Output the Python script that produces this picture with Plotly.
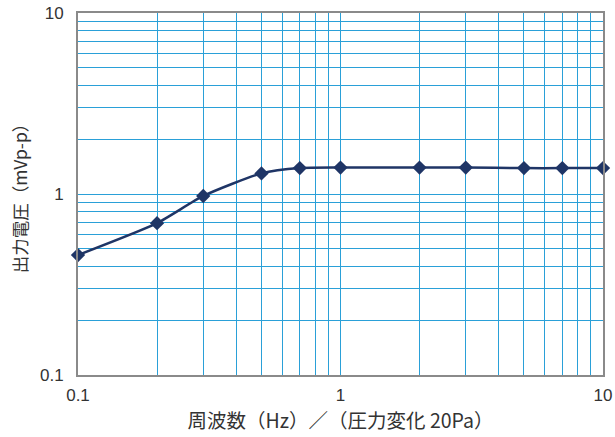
import plotly.graph_objects as go

freq_hz = [0.1, 0.2, 0.3, 0.5, 0.7, 1, 2, 3, 5, 7, 10]
output_mv = [0.46, 0.69, 0.975, 1.30, 1.39, 1.40, 1.40, 1.40, 1.39, 1.39, 1.39]

major_ticks = [0.1, 1, 10]
major_labels = ["0.1", "1", "10"]
minor_ticks = [round(m * d, 2) for d in (0.1, 1) for m in range(2, 10)]

x_title = "周波数（Hz）／（圧力変化 20Pa）"
y_title = "出力電圧（mVp-p）"

grid_col = "#2aa0d8"
axis_col = "#8a8a8a"
line_col = "#1f3566"
font_fam = "Noto Sans CJK JP, Noto Sans, sans-serif"
tick_fam = "Liberation Sans, Arial, sans-serif"

all_ticks = sorted(major_ticks + minor_ticks)
all_labels = [major_labels[major_ticks.index(v)] if v in major_ticks else "" for v in all_ticks]

fig = go.Figure()
fig.add_trace(go.Scatter(
    x=freq_hz, y=output_mv, mode="lines+markers",
    line=dict(color=line_col, width=2.5, shape="spline", smoothing=0.6),
    marker=dict(symbol="diamond", size=11, color=line_col),
    showlegend=False, cliponaxis=False,
))

common = dict(
    type="log", tickmode="array", tickvals=all_ticks, ticktext=all_labels,
    showgrid=True, gridcolor=grid_col, gridwidth=1.3,
    showline=True, linecolor=axis_col, linewidth=2, mirror=True,
    ticks="", zeroline=False, automargin=False,
    tickfont=dict(size=17, color="#333333", family=tick_fam),
)

fig.update_xaxes(range=[-1, 1], ticklabelstandoff=4,
                 title=dict(text=x_title, standoff=6,
                            font=dict(size=19.5, color="#333333", family=font_fam)), **common)
fig.update_yaxes(range=[-1, 1], ticklabelstandoff=9,
                 title=dict(text=y_title, standoff=8,
                            font=dict(size=17.5, color="#333333", family=font_fam)), **common)

fig.update_layout(
    width=615, height=437,
    margin=dict(l=78, r=12, t=13, b=62),
    paper_bgcolor="white", plot_bgcolor="white",
    font=dict(family=font_fam),
)

fig.write_html("out.html")
